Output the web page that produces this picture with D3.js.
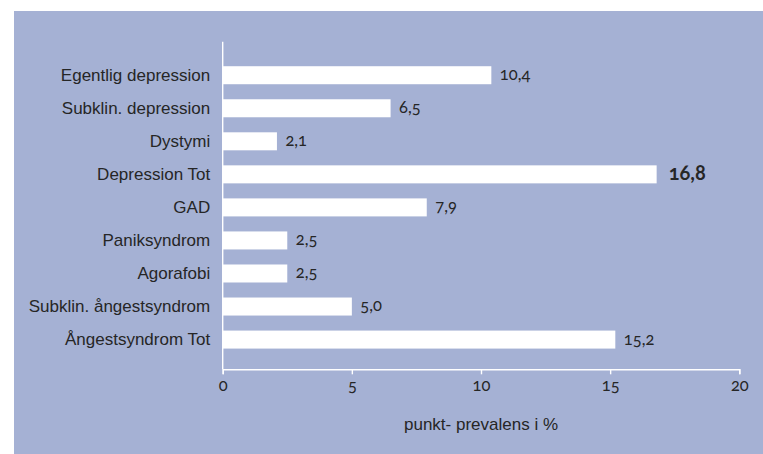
<!DOCTYPE html>
<html><head><meta charset="utf-8">
<script src="https://cdn.jsdelivr.net/npm/d3@7"></script>
<style>
html,body{margin:0;padding:0;background:#fff;}
svg{display:block;}
.num{font-family:Lato,"Liberation Sans",sans-serif;font-variant-numeric:oldstyle-nums;font-feature-settings:"onum" 1;}
</style></head><body>
<svg id="chart" width="763" height="454"></svg>
<script>
// ---- data ----
const categories = ["Egentlig depression","Subklin. depression","Dystymi","Depression Tot","GAD","Paniksyndrom","Agorafobi","Subklin. ångestsyndrom","Ångestsyndrom Tot"];
const prevalence = [10.4, 6.5, 2.1, 16.8, 7.9, 2.5, 2.5, 5.0, 15.2];
const highlighted = ["Depression Tot"];
const xTicks = [0, 5, 10, 15, 20];
const xTitle = "punkt- prevalens i %";

// ---- setup ----
const W = 763, H = 454;
const svg = d3.select("#chart");
const textColor = "#262626";
const locale = d3.formatLocale({decimal: ",", thousands: " ", grouping: [3], currency: ["", ""]});
const fmt = locale.format(".1f");

svg.append("rect").attr("x", 14).attr("y", 11)
  .attr("width", W - 14).attr("height", H - 11).attr("fill", "#a5b1d4");

const x = d3.scaleLinear().domain([0, 20]).range([222.7, 739.3]);
const y = d3.scaleBand().domain(categories).range([58.7, 356.1])
  .paddingInner(0.455).paddingOuter(0.2275);
const axisY = 369.3;

// bars
const data = categories.map((c, i) => ({cat: c, v: prevalence[i], hi: highlighted.includes(c)}));
svg.append("g").selectAll("rect").data(data).join("rect")
  .attr("x", x(0)).attr("y", d => y(d.cat))
  .attr("width", d => x(d.v) - x(0)).attr("height", y.bandwidth())
  .attr("fill", "#ffffff");

// value labels
svg.append("g").selectAll("text").data(data).join("text")
  .attr("class", "num")
  .attr("x", d => x(d.v) + (d.hi ? 12 : 8.5))
  .attr("y", d => y(d.cat) + y.bandwidth() / 2)
  .attr("dy", d => d.hi ? "0.28em" : "0.3em")
  .attr("font-size", d => d.hi ? 20 : 16.5)
  .attr("font-weight", d => d.hi ? "bold" : "normal")
  .attr("fill", textColor)
  .text(d => fmt(d.v));

// y axis (category labels)
const gy = svg.append("g").attr("transform", `translate(${x(0)},0)`)
  .call(d3.axisLeft(y).tickSize(0).tickPadding(12.5));
gy.select(".domain").remove();
gy.selectAll("text").attr("font-family", "'Liberation Sans', Arial, sans-serif")
  .attr("font-size", 17).attr("fill", textColor);

svg.append("line").attr("x1", x(0)).attr("x2", x(0)).attr("y1", 41.7).attr("y2", axisY)
  .attr("stroke", "#ffffff").attr("stroke-width", 1.4);

// x axis
const gx = svg.append("g").attr("transform", `translate(0,${axisY})`)
  .call(d3.axisBottom(x).tickValues(xTicks).tickSize(5).tickPadding(5).tickSizeOuter(5).tickFormat(d3.format("d")));
gx.select(".domain").attr("stroke", "#ffffff").attr("stroke-width", 1.4);
gx.selectAll(".tick line").attr("stroke", "#ffffff").attr("stroke-width", 1.4);
gx.selectAll("text").attr("class", "num").attr("font-size", 16.5).attr("fill", textColor);

// x title
svg.append("text").attr("x", (x(0) + x(20)) / 2).attr("y", 429.5)
  .attr("text-anchor", "middle")
  .attr("font-family", "'Liberation Sans', Arial, sans-serif")
  .attr("font-size", 17).attr("fill", textColor)
  .text(xTitle);
</script>
</body></html>
